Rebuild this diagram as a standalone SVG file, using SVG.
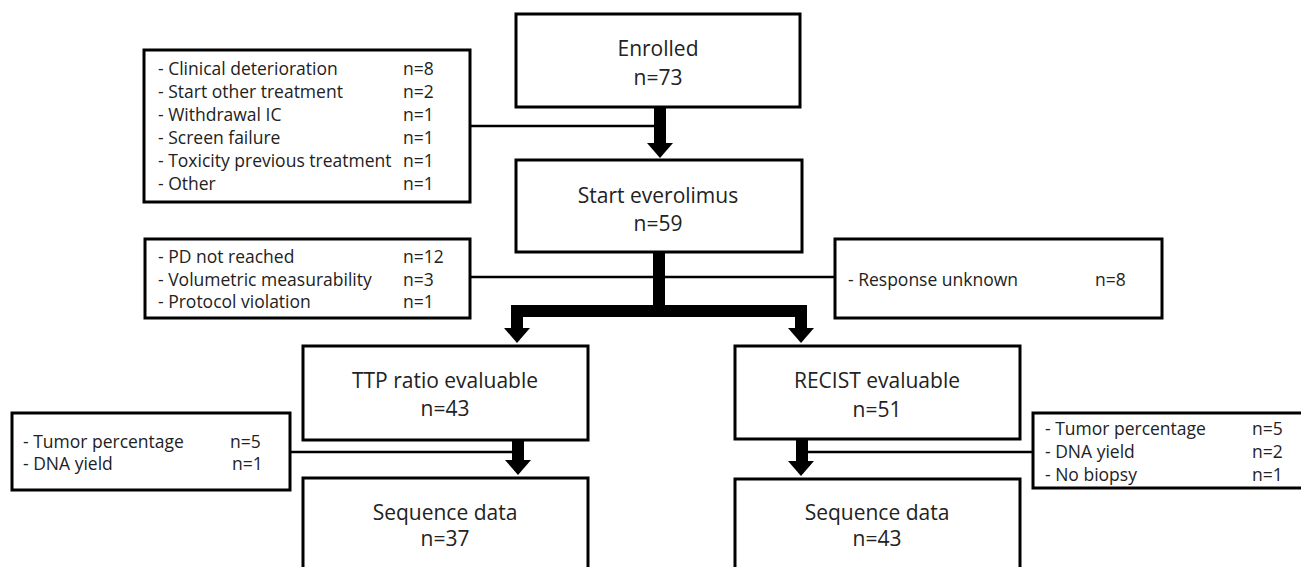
<svg xmlns="http://www.w3.org/2000/svg" xmlns:xlink="http://www.w3.org/1999/xlink" width="1301" height="567" viewBox="0 0 1301 567">
<style>
.box{fill:#fff;stroke:#000;stroke-width:3}
.t{font-family:"Open Sans","Noto Sans","Liberation Sans",sans-serif;fill:#222}
.main{font-size:21px;text-anchor:middle}
.side{font-size:17.5px}
.thin{stroke:#000;stroke-width:2.5;fill:none}
.thick{stroke:#000;stroke-width:12;fill:none}
.head{fill:#000}
</style>
<defs>
<path id="ah" d="M-13,0 H13 L0,15 Z"/>
</defs>
<rect width="1301" height="567" fill="#fff"/>
<g id="connectors">
<path class="thin" d="M470,126 H660"/>
<path class="thick" d="M660,107 V144"/>
<use xlink:href="#ah" class="head" x="660" y="143"/>
<path class="thin" d="M470,277 H835"/>
<path class="thick" d="M659,252 V311 M517,311 H801 M517,305 V329 M801,305 V329"/>
<use xlink:href="#ah" class="head" x="517" y="328"/>
<use xlink:href="#ah" class="head" x="801" y="328"/>
<path class="thin" d="M290,452 H517"/>
<path class="thick" d="M518,440 V461"/>
<use xlink:href="#ah" class="head" x="518" y="460"/>
<path class="thin" d="M802,452 H1033"/>
<path class="thick" d="M802,439 V462"/>
<use xlink:href="#ah" class="head" x="801" y="461"/>
</g>
<g id="excl1">
<rect class="box" x="144" y="50" width="326" height="152"/>
<text class="t side" x="158" y="75">- Clinical deterioration</text>
<text class="t side" x="158" y="98">- Start other treatment</text>
<text class="t side" x="158" y="121">- Withdrawal IC</text>
<text class="t side" x="158" y="144">- Screen failure</text>
<text class="t side" x="158" y="167">- Toxicity previous treatment</text>
<text class="t side" x="158" y="190">- Other</text>
<text class="t side" x="403" y="75">n=8</text>
<text class="t side" x="403" y="98">n=2</text>
<text class="t side" x="403" y="121">n=1</text>
<text class="t side" x="403" y="144">n=1</text>
<text class="t side" x="403" y="167">n=1</text>
<text class="t side" x="403" y="190">n=1</text>
</g>
<g id="enrolled">
<rect class="box" x="516" y="14" width="284" height="93"/>
<text class="t main" x="658" y="56">Enrolled</text>
<text class="t main" x="658" y="85">n=73</text>
</g>
<g id="start">
<rect class="box" x="516" y="160" width="286" height="92"/>
<text class="t main" x="658" y="203">Start everolimus</text>
<text class="t main" x="658" y="231">n=59</text>
</g>
<g id="excl2">
<rect class="box" x="145" y="239" width="325" height="79"/>
<text class="t side" x="158" y="263">- PD not reached</text>
<text class="t side" x="158" y="286">- Volumetric measurability</text>
<text class="t side" x="158" y="308">- Protocol violation</text>
<text class="t side" x="403" y="263">n=12</text>
<text class="t side" x="403" y="286">n=3</text>
<text class="t side" x="403" y="308">n=1</text>
</g>
<g id="excl3">
<rect class="box" x="835" y="239" width="327" height="79"/>
<text class="t side" x="848" y="286">- Response unknown</text>
<text class="t side" x="1095" y="286">n=8</text>
</g>
<g id="ttp">
<rect class="box" x="303" y="346" width="285" height="94"/>
<text class="t main" x="445" y="388">TTP ratio evaluable</text>
<text class="t main" x="445" y="416">n=43</text>
</g>
<g id="recist">
<rect class="box" x="735" y="346" width="285" height="93"/>
<text class="t main" x="877" y="388">RECIST evaluable</text>
<text class="t main" x="877" y="417">n=51</text>
</g>
<g id="excl4">
<rect class="box" x="12" y="413" width="278" height="77"/>
<text class="t side" x="23" y="448">- Tumor percentage</text>
<text class="t side" x="23" y="470">- DNA yield</text>
<text class="t side" x="230" y="448">n=5</text>
<text class="t side" x="232" y="470">n=1</text>
</g>
<g id="excl5">
<rect class="box" x="1033" y="413" width="280" height="75"/>
<text class="t side" x="1045" y="435">- Tumor percentage</text>
<text class="t side" x="1045" y="458">- DNA yield</text>
<text class="t side" x="1045" y="481">- No biopsy</text>
<text class="t side" x="1252" y="435">n=5</text>
<text class="t side" x="1252" y="458">n=2</text>
<text class="t side" x="1252" y="481">n=1</text>
</g>
<g id="seq1">
<rect class="box" x="303" y="478" width="285" height="100"/>
<text class="t main" x="445" y="520">Sequence data</text>
<text class="t main" x="445" y="546">n=37</text>
</g>
<g id="seq2">
<rect class="box" x="735" y="479" width="285" height="100"/>
<text class="t main" x="877" y="520">Sequence data</text>
<text class="t main" x="877" y="546">n=43</text>
</g>
</svg>
